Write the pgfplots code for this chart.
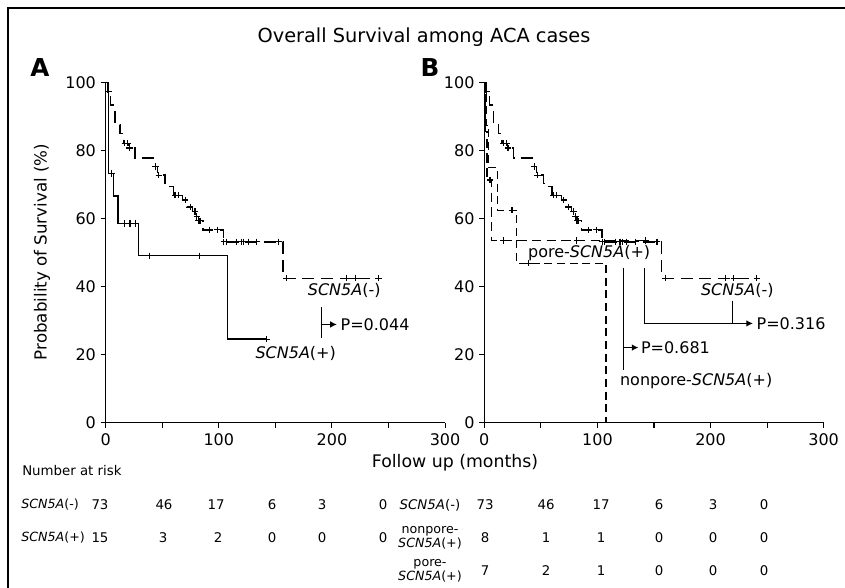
\documentclass[border=0pt]{standalone}
\usepackage{fontspec}
\setmainfont{DejaVu Sans}
\usepackage{pgfplots}
\pgfplotsset{compat=1.18}
\usetikzlibrary{arrows.meta}

\pgfplotstableread{
t s
0 100
1.5 97.3
4.4 93.4
8.2 87.6
12.5 85.0
15.6 82.2
20.5 80.8
26 77.8
42 75.3
46 72.8
52.5 70.4
57 69.4
60 66.9
68 65.5
72 63.5
77 62.1
80 60.7
82 59.4
86 56.7
104 53.2
156.6 42.5
242.7 42.5
}\negcurve
\pgfplotstableread{
t s
2.3 97.3
17 82.2
19.6 82.2
21 80.8
44 75.3
47 72.8
61.3 66.9
64.2 66.9
70.2 65.5
74.6 63.5
79 62.1
80.5 60.7
82 59.4
83.4 59.4
92 56.7
99 56.7
104.5 53.2
106.5 53.2
116 53.2
120 53.2
121.8 53.2
126 53.2
133.6 53.2
152.7 53.2
160 42.5
213 42.5
220.6 42.5
241 42.5
}\negcens
\pgfplotstableread{
t s
0 100
2.3 73.3
6.7 66.7
11 58.6
29 49.1
107.6 24.6
142.5 24.6
}\poscurve
\pgfplotstableread{
t s
5 73.3
17 58.6
21.5 58.6
26 58.6
38.6 49.1
82.6 49.1
142.5 24.6
}\poscens
\pgfplotstableread{
t s
0 100
1.5 87.5
3.6 75
11.6 62.5
28.6 46.9
107.7 0
}\npcurve
\pgfplotstableread{
t s
24.5 62.5
39 46.9
}\npcens
\pgfplotstableread{
t s
0 100
1 85.7
2.3 71.4
6.5 53.6
142.5 53.6
}\pcurve
\pgfplotstableread{
t s
5 71.4
17 53.6
81.8 53.6
142.5 53.6
}\pcens

\pgfplotsset{kmaxis/.style={scale only axis, width=254.5pt, height=255pt,
  xmin=0, xmax=300, ymin=0, ymax=100,
  axis x line*=bottom, axis y line*=left,
  xtick={0,100,200,300}, minor xtick={50,150,250}, ytick={0,20,40,60,80,100},
  tick align=outside, major tick length=3.8pt, minor tick length=3.8pt,
  every tick/.style={line width=0.8pt, black},
  axis line style={line width=0.9pt},
  /pgf/number format/assume math mode=true,
  tick label style={font=\fontsize{12}{14}\selectfont},
  xticklabel style={yshift=-1pt},
  clip=false, anchor=south west},
  cens/.style={only marks, mark=+, mark size=2.4pt, mark options={line width=0.85pt}},
  neg/.style={const plot, line width=1.05pt, dash pattern=on 9pt off 5pt}
}
\tikzset{ann/.style={font=\fontsize{12}{14}\selectfont}}

\begin{document}
\begin{tikzpicture}[x=0.75pt,y=0.75pt]
\path[use as bounding box] (0,0) rectangle (845,-587);
\draw[line width=1.6pt] (8.3,-590) -- (8.3,-8.3) -- (850,-8.3);

\node[font=\fontsize{14.5}{16}\selectfont] at (424,-37) {Overall Survival among ACA cases};
\node[font=\bfseries\fontsize{18.5}{20}\selectfont] at (40,-68) {A};
\node[font=\bfseries\fontsize{18.5}{20}\selectfont] at (430,-68) {B};
\node[rotate=90, font=\fontsize{12.5}{14}\selectfont] at (42,-252) {Probability of Survival (\%)};
\node[font=\fontsize{13}{15}\selectfont] at (455,-463) {Follow up (months)};

% Panel A
\begin{axis}[kmaxis, at={(79.275pt,-317.025pt)}]
\addplot[neg] table[x=t,y=s] {\negcurve};
\addplot[cens] table[x=t,y=s] {\negcens};
\addplot[const plot, line width=1.05pt] table[x=t,y=s] {\poscurve};
\addplot[cens] table[x=t,y=s] {\poscens};
\node[ann] at (axis cs:210.9,39.0) {\textit{SCN5A}(-)};
\node[ann] at (axis cs:168,20.5) {\textit{SCN5A}(+)};
\draw[line width=1pt] (axis cs:191,34.1) -- (axis cs:191,24.8);
\draw[line width=1pt, -{Latex[length=5pt,width=5pt]}] (axis cs:191,28.9) -- (axis cs:204.4,28.9);
\node[ann, anchor=west, inner sep=0pt] at (axis cs:207.5,28.9) {P=0.044};
\end{axis}

% Panel B
\begin{axis}[kmaxis, at={(363.225pt,-317.025pt)}]
\addplot[neg] table[x=t,y=s] {\negcurve};
\addplot[cens] table[x=t,y=s] {\negcens};
\addplot[const plot, line width=1.05pt, dash pattern=on 6pt off 3.5pt] table[x=t,y=s] {\npcurve};
\addplot[cens] table[x=t,y=s] {\npcens};
\addplot[const plot, line width=1.05pt, dash pattern=on 7pt off 4pt] table[x=t,y=s] {\pcurve};
\addplot[cens] table[x=t,y=s] {\pcens};
\node[ann] at (axis cs:92.7,49.8) {pore-\textit{SCN5A}(+)};
\node[ann] at (axis cs:223.7,39.0) {\textit{SCN5A}(-)};
\node[ann] at (axis cs:187.3,12.1) {nonpore-\textit{SCN5A}(+)};
\draw[line width=1pt] (axis cs:123,45.6) -- (axis cs:123,15.5);
\draw[line width=1pt, -{Latex[length=5pt,width=5pt]}] (axis cs:123,22.1) -- (axis cs:136.3,22.1);
\node[ann, anchor=west, inner sep=0pt] at (axis cs:138.3,22.1) {P=0.681};
\draw[line width=1pt] (axis cs:141.4,45.4) -- (axis cs:141.4,29.2);
\draw[line width=1pt, -{Latex[length=5pt,width=5pt]}] (axis cs:141.4,29.2) -- (axis cs:237.5,29.2);
\draw[line width=1pt] (axis cs:219.5,35.9) -- (axis cs:219.5,29.2);
\node[ann, anchor=west, inner sep=0pt] at (axis cs:240.5,29.2) {P=0.316};
\end{axis}

% Number at risk table
\begin{scope}[every node/.style={font=\fontsize{10}{11}\selectfont}]
\node[anchor=west, inner sep=0pt] at (22,-471) {Number at risk};
\node[anchor=west, inner sep=0pt, font=\fontsize{9.5}{11}\selectfont] at (21,-505) {\textit{SCN5A}(-)};
\node[anchor=west, inner sep=0pt, font=\fontsize{9.5}{11}\selectfont] at (21,-538) {\textit{SCN5A}(+)};
\foreach \x/\v in {100/73,164/46,216/17,272/6,322/3,383/0} \node at (\x,-505) {\v};
\foreach \x/\v in {100/15,163/3,218/2,272/0,322/0,383/0} \node at (\x,-538) {\v};
\node at (430,-505) {\textit{SCN5A}(-)};
\node[align=center, font=\fontsize{9.5}{10.5}\selectfont] at (430,-538) {nonpore-\\\textit{SCN5A}(+)};
\node[align=center, font=\fontsize{9.5}{10.5}\selectfont] at (430,-571) {pore-\\\textit{SCN5A}(+)};
\foreach \x/\v in {485/73,546/46,601/17,659/6,713/3,764/0} \node at (\x,-505) {\v};
\foreach \x/\v in {485/8,546/1,601/1,659/0,713/0,764/0} \node at (\x,-538) {\v};
\foreach \x/\v in {485/7,546/2,601/1,659/0,713/0,764/0} \node at (\x,-571) {\v};
\end{scope}
\end{tikzpicture}
\end{document}
